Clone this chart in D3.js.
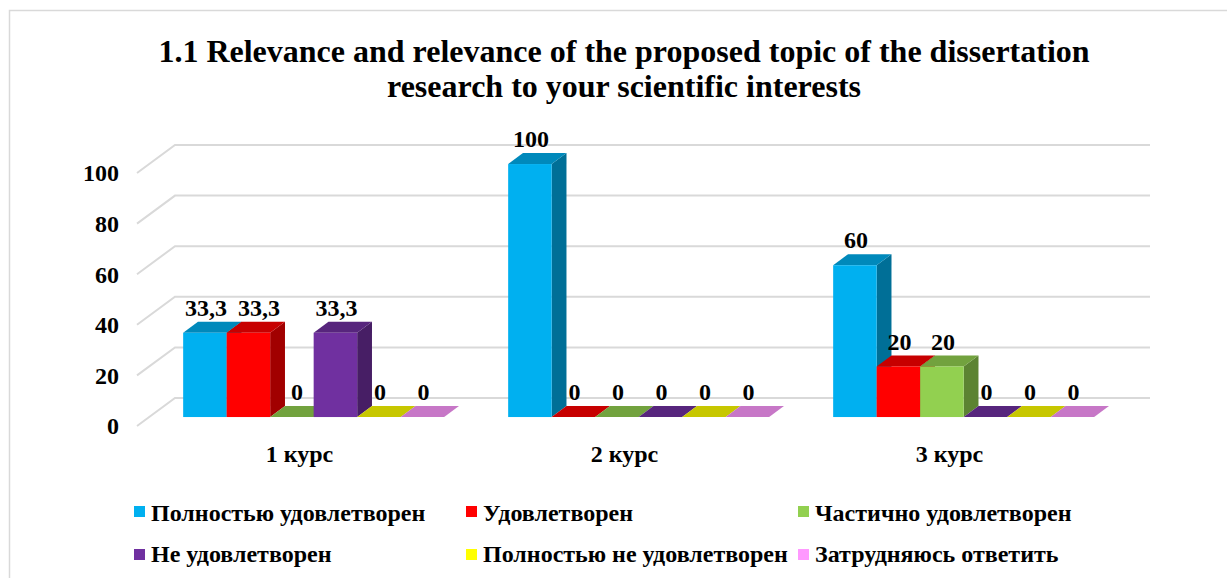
<!DOCTYPE html>
<html><head><meta charset="utf-8">
<script src="https://cdn.jsdelivr.net/npm/d3@7"></script>
<style>
html,body{margin:0;padding:0;background:#fff;}
</style>
</head><body>
<svg id="c" width="1227" height="578" font-family="Liberation Serif" font-weight="bold"></svg>
<script>
// ---- data ----
const categories = ["1 курс", "2 курс", "3 курс"];
const seriesNames = ["Полностью удовлетворен", "Удовлетворен", "Частично удовлетворен",
                     "Не удовлетворен", "Полностью не удовлетворен", "Затрудняюсь ответить"];
const seriesColors = ["#00b0f0", "#ff0000", "#92d050", "#7030a0", "#ffff00", "#ff99ff"];
const fullySatisfied   = [33.3, 100, 60];
const satisfied        = [33.3, 0, 20];
const partlySatisfied  = [0, 0, 20];
const notSatisfied     = [33.3, 0, 0];
const fullyNotSatisfied= [0, 0, 0];
const hardToSay        = [0, 0, 0];
const seriesValues = [fullySatisfied, satisfied, partlySatisfied, notSatisfied, fullyNotSatisfied, hardToSay];
const yTicks = [0, 20, 40, 60, 80, 100];
const titleLines = ["1.1 Relevance and relevance of the proposed topic of the dissertation",
                    "research to your scientific interests"];

// ---- layout ----
const FONT = "Liberation Serif";
const svg = d3.select("#c");
svg.append("rect").attr("x", 9.5).attr("y", 10.5).attr("width", 1260).attr("height", 620)
  .attr("fill", "#fff").attr("stroke", "#d9d9d9").attr("stroke-width", 1.5);

const backX0 = 175, backX1 = 1150;
const depthDx = -38, depthDy = 28;       // back wall -> front floor
const fFront = 0.68, fBack = 0.29;       // bar front/back depth fractions
const y = d3.scaleLinear().domain([0, 100]).range([398, 145]);
const x = d3.scaleBand().domain(categories).range([backX0, backX1]);
const xs = d3.scaleBand().domain(seriesNames).range([34, 295]);
const shade = (c, k) => { const o = d3.rgb(c); return d3.rgb(o.r * k, o.g * k, o.b * k).formatHex(); };
const fmt = v => String(v).replace(".", ",");
const txt = (sel, size) => sel.attr("font-family", FONT).attr("font-weight", "bold").attr("font-size", size).attr("fill", "#000");

// title
svg.append("g").selectAll("text").data(titleLines).join("text")
  .attr("x", 624).attr("y", (d, i) => 62 + i * 35)
  .attr("text-anchor", "middle").call(txt, 32).text(d => d);

// gridlines
const grid = svg.append("g");
grid.selectAll("path").data(yTicks).join("path")
  .attr("d", t => `M${backX1},${y(t)}H${backX0}l${depthDx},${depthDy}`)
  .attr("fill", "none").attr("stroke", "#d9d9d9").attr("stroke-width", 2);

// y tick labels
svg.append("g").selectAll("text").data(yTicks).join("text")
  .attr("x", 119).attr("y", t => y(t) + depthDy).attr("dy", "0.35em")
  .attr("text-anchor", "end").call(txt, 24).text(t => t);

// category labels
svg.append("g").selectAll("text").data(categories).join("text")
  .attr("x", c => x(c) + x.bandwidth() / 2 + depthDx).attr("y", y(0) + depthDy + 36)
  .attr("text-anchor", "middle").call(txt, 24).text(c => c);

// bars
const w = xs.bandwidth();
const bars = svg.append("g");
const labels = svg.append("g");
categories.forEach((c, ci) => {
  let prevRight = -Infinity;
  seriesNames.forEach((s, si) => {
    const v = seriesValues[si][ci];
    const col = seriesColors[si];
    const xb = x(c) + xs(s);
    const fx = xb + depthDx * fFront, bx = xb + depthDx * fBack;
    const fyT = y(v) + depthDy * fFront, fyB = y(0) + depthDy * fFront;
    const byT = y(v) + depthDy * fBack, byB = y(0) + depthDy * fBack;
    const g = bars.append("g");
    g.append("polygon").attr("points", [[fx + w, fyT], [fx + w, fyB], [bx + w, byB], [bx + w, byT]].join(" "))
      .attr("fill", shade(col, 0.63));
    g.append("polygon").attr("points", [[fx, fyT], [fx + w, fyT], [bx + w, byT], [bx, byT]].join(" "))
      .attr("fill", shade(col, 0.78));
    if (v > 0) g.append("rect").attr("x", fx).attr("y", fyT).attr("width", w).attr("height", fyB - fyT)
      .attr("fill", col);
    const t = labels.append("text").attr("text-anchor", "middle").call(txt, 24)
      .attr("y", byT - 6).text(fmt(v));
    let cx = fx + w / 2 + 1;
    const tw = t.node().getComputedTextLength();
    if (cx - tw / 2 < prevRight + 11) cx = prevRight + 11 + tw / 2;
    t.attr("x", cx);
    prevRight = cx + tw / 2;
  });
});

// legend
const legend = svg.append("g");
seriesNames.forEach((s, i) => {
  const col = i % 3, row = Math.floor(i / 3);
  const lx = 134 + col * 332, ly = 506 + row * 43;
  legend.append("rect").attr("x", lx).attr("y", ly).attr("width", 11).attr("height", 11).attr("fill", seriesColors[i]);
  legend.append("text").attr("x", lx + 17).attr("y", 521 + row * 41).call(txt, 24).text(s);
});
</script>
</body></html>
